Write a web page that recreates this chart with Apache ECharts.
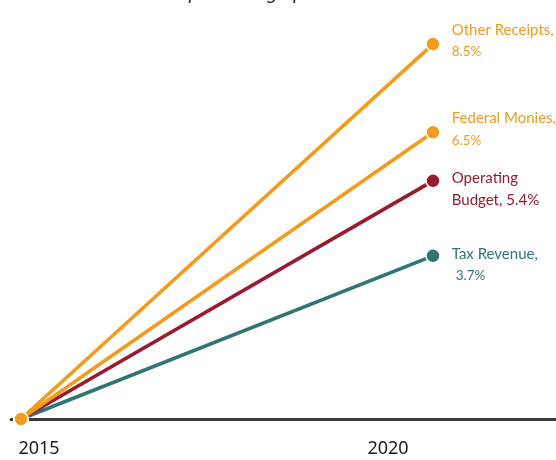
<!DOCTYPE html>
<html><head><meta charset="utf-8">
<script src="https://cdn.jsdelivr.net/npm/echarts@6/dist/echarts.min.js"></script>
<style>html,body{margin:0;padding:0;background:#fff}#c{width:556px;height:460px}</style>
</head><body><div id="c"></div>
<script>
const years = [2015, 2020];
const tickLabels = ['2015', '2020'];
const seriesNames = ['Tax Revenue', 'Operating Budget', 'Federal Monies', 'Other Receipts'];
const taxRevenue = [0, 3.7];
const operatingBudget = [0, 5.4];
const federalMonies = [0, 6.5];
const otherReceipts = [0, 8.5];
const labelLines = [
  ['Tax Revenue,', '3.7%'],
  ['Operating', 'Budget, 5.4%'],
  ['Federal Monies,', '6.5%'],
  ['Other Receipts,', '8.5%']
];
const titleStart = 'Mean annual increase in ';
const titleEnd = 'percentage points';

const values = [taxRevenue, operatingBudget, federalMonies, otherReceipts];
const colors = ['#2F7672', '#981B2F', '#F29B1C', '#F29B1C'];
const offsets = [[0, 9], [0, 8], [0, -3], [0, -3]];
const secondSize = [13.5, 15, 13.5, 13.5];
const secondPad = [[0, 0, 0, 4], [0, 0, 0, 0], [0, 0, 0, 0], [0, 0, 0, 0]];

const chart = echarts.init(document.getElementById('c'));
const series = values.map((v, i) => ({
  name: seriesNames[i],
  type: 'line',
  symbol: 'circle',
  symbolSize: 14,
  z: 2 + i,
  itemStyle: { color: colors[i], borderColor: '#fff', borderWidth: 1.5 },
  lineStyle: { color: colors[i], width: 3.6 },
  emphasis: { disabled: true },
  data: v.map((y, j) => j === v.length - 1 ? {
    value: [years[j], y],
    label: {
      show: true,
      position: 'right',
      distance: 11,
      offset: offsets[i],
      formatter: '{a|' + labelLines[i][0] + '}\n{b|' + labelLines[i][1] + '}',
      rich: {
        a: { fontFamily: 'Lato', fontSize: 15, color: colors[i], lineHeight: 22 },
        b: { fontFamily: 'Lato', fontSize: secondSize[i], color: colors[i], lineHeight: 22, padding: secondPad[i] }
      }
    }
  } : [years[j], y])
}));

chart.setOption({
  animation: false,
  grid: { left: 11, right: 0, top: 0, bottom: 41 },
  xAxis: {
    type: 'value',
    min: 2015 - 10 / 82.4,
    max: 2015 - 10 / 82.4 + 545 / 82.4,
    splitLine: { show: false },
    axisTick: { show: false },
    axisLine: { show: true, lineStyle: { color: '#3a3a3a', width: 3 } },
    axisLabel: {
      customValues: years,
      margin: 21,
      formatter: (val) => {
        const k = years.indexOf(Math.round(val));
        return k === 0 ? '{l|' + tickLabels[0] + '}' : '{r|' + tickLabels[k] + '}';
      },
      rich: {
        l: { fontFamily: 'Noto Sans', fontSize: 18, color: '#1a1a1a', padding: [0, 0, 0, 36] },
        r: { fontFamily: 'Noto Sans', fontSize: 18, color: '#1a1a1a', padding: [0, 90, 0, 0] }
      }
    }
  },
  yAxis: { type: 'value', min: 0, max: 9.5, show: false },
  graphic: [
    { type: 'text', x: 189, y: 2, style: { text: titleEnd, font: 'italic 20px "Noto Sans"', fill: '#2b2b3a', verticalAlign: 'bottom', align: 'left' } },
    { type: 'text', x: 189, y: 2, style: { text: titleStart, font: 'italic 20px "Noto Sans"', fill: '#2b2b3a', verticalAlign: 'bottom', align: 'right' } }
  ],
  series: series
});
</script></body></html>
